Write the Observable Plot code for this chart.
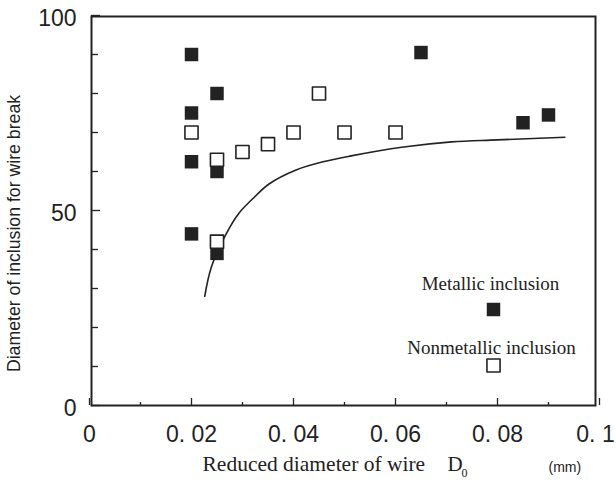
<!DOCTYPE html>
<html>
<head>
<meta charset="utf-8">
<script src="https://cdn.jsdelivr.net/npm/d3@7"></script>
<script src="https://cdn.jsdelivr.net/npm/@observablehq/plot@0.6"></script>
<style>
  html, body { margin: 0; padding: 0; background: #fff; }
  #chart { width: 616px; height: 482px; }
</style>
</head>
<body>
<div id="chart"></div>
<script>
// Metallic inclusion (filled squares)
const metallicX = [0.02, 0.02, 0.02, 0.02, 0.025, 0.025, 0.025, 0.065, 0.085, 0.09];
const metallicY = [90, 75, 62.5, 44, 80, 60, 39, 90.5, 72.5, 74.5];
// Nonmetallic inclusion (open squares)
const nonmetallicX = [0.02, 0.025, 0.025, 0.03, 0.035, 0.04, 0.045, 0.05, 0.06];
const nonmetallicY = [70, 63, 42, 65, 67, 70, 80, 70, 70];
// Critical curve
const curveX = [0.0226, 0.0239, 0.0268, 0.0293, 0.032, 0.0352, 0.0405, 0.0458, 0.0513, 0.0612, 0.071, 0.08, 0.0932];
const curveY = [28, 35.5, 44, 49.3, 53, 56.8, 60.4, 62.5, 64, 66.2, 67.6, 68.1, 68.8];
// Axes
const xMajorTicks = [0, 0.02, 0.04, 0.06, 0.08, 0.1];
const xTickLabels = ["0", "0. 02", "0. 04", "0. 06", "0. 08", "0. 1"];
const xMinorTicks = [0.01, 0.03, 0.05, 0.07, 0.09];
const yMajorTicks = [0, 50, 100];
const yTickLabels = ["0", "50", "100"];
const yMinorTicks = [10, 20, 30, 40, 60, 70, 80, 90];
const xTitle = "Reduced diameter of wire";
const xSymbol = "D";
const xSymbolSub = "0";
const xUnit = "(mm)";
const yTitle = "Diameter of inclusion for wire break";
const legendLabels = ["Metallic inclusion", "Nonmetallic inclusion"];

const metallic = metallicX.map((x, i) => ({x, y: metallicY[i]}));
const nonmetallic = nonmetallicX.map((x, i) => ({x, y: nonmetallicY[i]}));
const curve = curveX.map((x, i) => ({x, y: curveY[i]}));
const xLabelMap = new Map(xMajorTicks.map((d, i) => [d, xTickLabels[i]]));
const yLabelMap = new Map(yMajorTicks.map((d, i) => [d, yTickLabels[i]]));
const xLastTick = xMajorTicks[xMajorTicks.length - 1];

const ink = "#222";
const tickFont = "'Liberation Sans', Arial, sans-serif";
const serif = "'Liberation Serif', 'Times New Roman', serif";

const W = 616, H = 482, mL = 89, mR = 17, mT = 15, mB = 77;
const frameW = W - mL - mR, frameH = H - mT - mB;

const chart = Plot.plot({
  width: W,
  height: H,
  marginLeft: mL,
  marginRight: mR,
  marginTop: mT,
  marginBottom: mB,
  style: {background: "#fff", color: ink},
  x: {domain: [0, 0.1]},
  y: {domain: [0, 100]},
  marks: [
    // inward ticks
    Plot.tickX(xMajorTicks, {x: d => d, insetTop: frameH - 7, stroke: ink, strokeWidth: 1.3}),
    Plot.tickX(xMinorTicks, {x: d => d, insetTop: frameH - 3, stroke: ink, strokeWidth: 1.3}),
    Plot.tickY(yMajorTicks, {y: d => d, insetLeft: 2, insetRight: frameW - 11, stroke: ink, strokeWidth: 1.3}),
    Plot.tickY(yMinorTicks, {y: d => d, insetLeft: 2, insetRight: frameW - 9, stroke: ink, strokeWidth: 1.3}),
    Plot.frame({stroke: ink, strokeWidth: 2, insetLeft: 2, insetRight: 4, insetTop: 1}),
    // tick labels
    Plot.axisX(xMajorTicks.filter(d => d !== xLastTick), {tickSize: 0, tickPadding: 20, tickFormat: d => xLabelMap.get(d), label: null,
      fontSize: 23, fontFamily: tickFont, fill: ink}),
    Plot.axisX([xLastTick], {tickSize: 0, tickPadding: 20, tickFormat: d => xLabelMap.get(d), label: null,
      fontSize: 23, fontFamily: tickFont, fill: ink, dx: -4}),
    Plot.axisY(yMajorTicks, {tickSize: 0, tickPadding: 13, tickFormat: d => yLabelMap.get(d), label: null,
      fontSize: 23, fontFamily: tickFont, fill: ink, dy: 3}),
    // curve
    Plot.line(curve, {x: "x", y: "y", curve: "catmull-rom", stroke: ink, strokeWidth: 1.6}),
    // data
    Plot.dot(metallic, {x: "x", y: "y", symbol: "square", r: 7.6, fill: ink, stroke: "none"}),
    Plot.dot(nonmetallic, {x: "x", y: "y", symbol: "square", r: 7.4, fill: "#fff", stroke: ink, strokeWidth: 1.6, strokeLinejoin: "round"}),
    // axis titles
    Plot.text([xTitle], {text: d => d, frameAnchor: "bottom-left", dx: 113, dy: 59, textAnchor: "start", lineAnchor: "middle",
      fontSize: 21.5, fontFamily: serif, fill: ink}),
    Plot.text([xSymbol], {text: d => d, frameAnchor: "bottom-left", dx: 358, dy: 59, textAnchor: "start", lineAnchor: "middle",
      fontSize: 21, fontFamily: serif, fill: ink}),
    Plot.text([xSymbolSub], {text: d => d, frameAnchor: "bottom-left", dx: 372, dy: 68, textAnchor: "start", lineAnchor: "middle",
      fontSize: 12, fontFamily: serif, fill: ink}),
    Plot.text([xUnit], {text: d => d, frameAnchor: "bottom-left", dx: 459, dy: 62, textAnchor: "start", lineAnchor: "middle",
      fontSize: 14, fontFamily: "'Liberation Sans Narrow', 'Liberation Sans', sans-serif", fill: ink}),
    Plot.text([yTitle], {text: d => d, frameAnchor: "left", rotate: -90, dx: -75, dy: 23, textAnchor: "middle", lineAnchor: "middle",
      fontSize: 17.7, fontFamily: tickFont, fill: ink}),
    // legend
    Plot.text([legendLabels[0]], {text: d => d, frameAnchor: "top-left", dx: 401, dy: 268, textAnchor: "middle", lineAnchor: "middle",
      fontSize: 19, fontFamily: serif, fill: ink}),
    Plot.dot([0], {frameAnchor: "top-left", dx: 404, dy: 294, symbol: "square", r: 7.6, fill: ink, stroke: "none"}),
    Plot.text([legendLabels[1]], {text: d => d, frameAnchor: "top-left", dx: 402, dy: 332, textAnchor: "middle", lineAnchor: "middle",
      fontSize: 19, fontFamily: serif, fill: ink}),
    Plot.dot([0], {frameAnchor: "top-left", dx: 404, dy: 350, symbol: "square", r: 7.4, fill: "#fff", stroke: ink, strokeWidth: 1.6, strokeLinejoin: "round"})
  ]
});
document.getElementById("chart").appendChild(chart);
</script>
</body>
</html>
